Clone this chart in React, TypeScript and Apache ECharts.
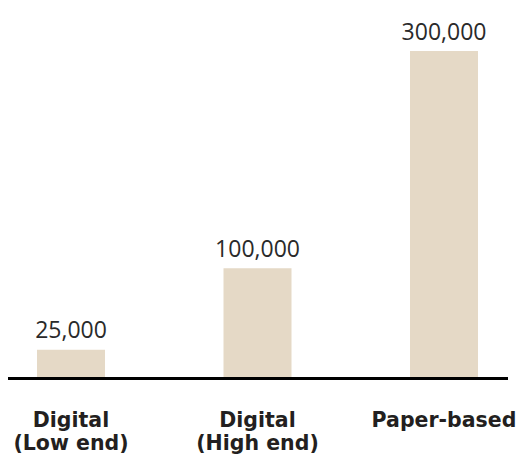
import React, { useEffect, useRef } from "react";
import * as echarts from "echarts";

const categories = ["Digital\n(Low end)", "Digital\n(High end)", "Paper-based"];
const values = [25000, 100000, 300000];

export default function App() {
  const ref = useRef<HTMLDivElement>(null);
  useEffect(() => {
    document.body.style.margin = "0";
    const chart = echarts.init(ref.current!, null, { renderer: "svg" });
    chart.setOption({
      animation: false,
      grid: { left: 71, right: 77, top: 51, bottom: 81 },
      xAxis: {
        type: "category",
        data: categories,
        boundaryGap: false,
        axisLine: { show: false },
        axisTick: { show: false },
        axisLabel: {
          interval: 0,
          margin: 31,
          color: "#231f20",
          fontFamily: "DejaVu Sans",
          fontWeight: "bold",
          fontSize: 20.5,
          lineHeight: 23,
        },
      },
      yAxis: {
        type: "value",
        min: 0,
        max: 300000,
        show: false,
        splitLine: { show: false },
      },
      graphic: [
        {
          type: "line",
          z: 100,
          shape: { x1: 8, y1: 378.5, x2: 508, y2: 378.5 },
          style: { stroke: "#000", lineWidth: 3 },
        },
      ],
      series: [
        {
          type: "bar",
          data: values,
          barWidth: 68,
          itemStyle: { color: "#e5d9c6" },
          label: {
            show: true,
            position: "top",
            distance: 9,
            color: "#2a2a2a",
            fontFamily: "Open Sans",
            fontSize: 23,
            formatter: (p: any) => p.value.toLocaleString("en-US"),
          },
        },
      ],
    });
    return () => chart.dispose();
  }, []);
  return <div ref={ref} style={{ width: 521, height: 458 }} />;
}
